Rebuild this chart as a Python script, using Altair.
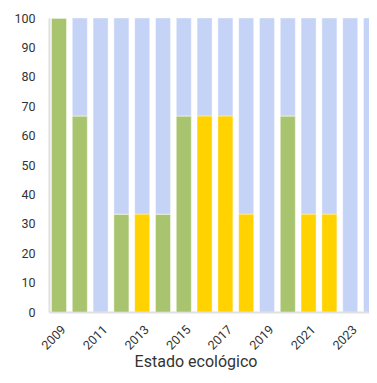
import altair as alt
import pandas as pd

years = list(range(2009, 2025))
green = [100, 66.7, 0, 33.3, 0, 33.3, 66.7, 0, 0, 0, 0, 66.7, 0, 0, 0, 0]
yellow = [0, 0, 0, 0, 33.3, 0, 0, 66.7, 66.7, 33.3, 0, 0, 33.3, 33.3, 0, 0]
blue = [0, 33.3, 100, 66.7, 66.7, 66.7, 33.3, 33.3, 33.3, 66.7, 100, 33.3, 66.7, 66.7, 100, 100]
categories = ["verde", "amarillo", "azul"]
colors = ["#A9C46E", "#FFD200", "#C5D3F6"]
tick_years = [2009, 2011, 2013, 2015, 2017, 2019, 2021, 2023]

rows = []
for series, vals, order in [("verde", green, 0), ("amarillo", yellow, 1), ("azul", blue, 2)]:
    for y, v in zip(years, vals):
        rows.append({"year": y, "cat": series, "value": v, "ord": order})
df = pd.DataFrame(rows)

chart = alt.Chart(df).mark_bar(size=15, clip=True, stroke="white", strokeWidth=0.8,
                               strokeOpacity=0.5).encode(
    x=alt.X("year:Q", title="Estado ecológico",
            scale=alt.Scale(domain=[2008.519, 2023.904], nice=False, zero=False, padding=0),
            axis=alt.Axis(values=tick_years, format="d", labelAngle=-45, ticks=False,
                          labelPadding=11, labelFlush=False, labelOverlap=False,
                          labelAlign="right", labelBaseline="top",
                          labelFontSize=12.5, labelColor="#333", labelFont="Roboto",
                          domainColor="#E0E0E0", domainWidth=2, grid=False,
                          titleFont="Roboto", titleFontSize=16, titleFontWeight="normal",
                          titleColor="#333", titleX=146.5, titleY=54, titleBaseline="alphabetic")),
    y=alt.Y("value:Q", stack="zero", title=None,
            scale=alt.Scale(domain=[0, 100], nice=False),
            axis=alt.Axis(values=list(range(0, 101, 10)), grid=False, ticks=False,
                          labelPadding=14, labelFontSize=12.5, labelColor="#333",
                          labelFont="Roboto", domainColor="#E0E0E0", domainWidth=2)),
    color=alt.Color("cat:N", scale=alt.Scale(domain=categories, range=colors), legend=None),
    order=alt.Order("ord:Q", sort="ascending"),
).properties(
    width=320, height=294,
    autosize=alt.AutoSizeParams(type="none"),
    padding={"left": 41, "top": 10, "right": 0, "bottom": 58},
).configure_view(stroke=None)

chart.save("out.html", embed_options={"renderer": "svg", "actions": False})
